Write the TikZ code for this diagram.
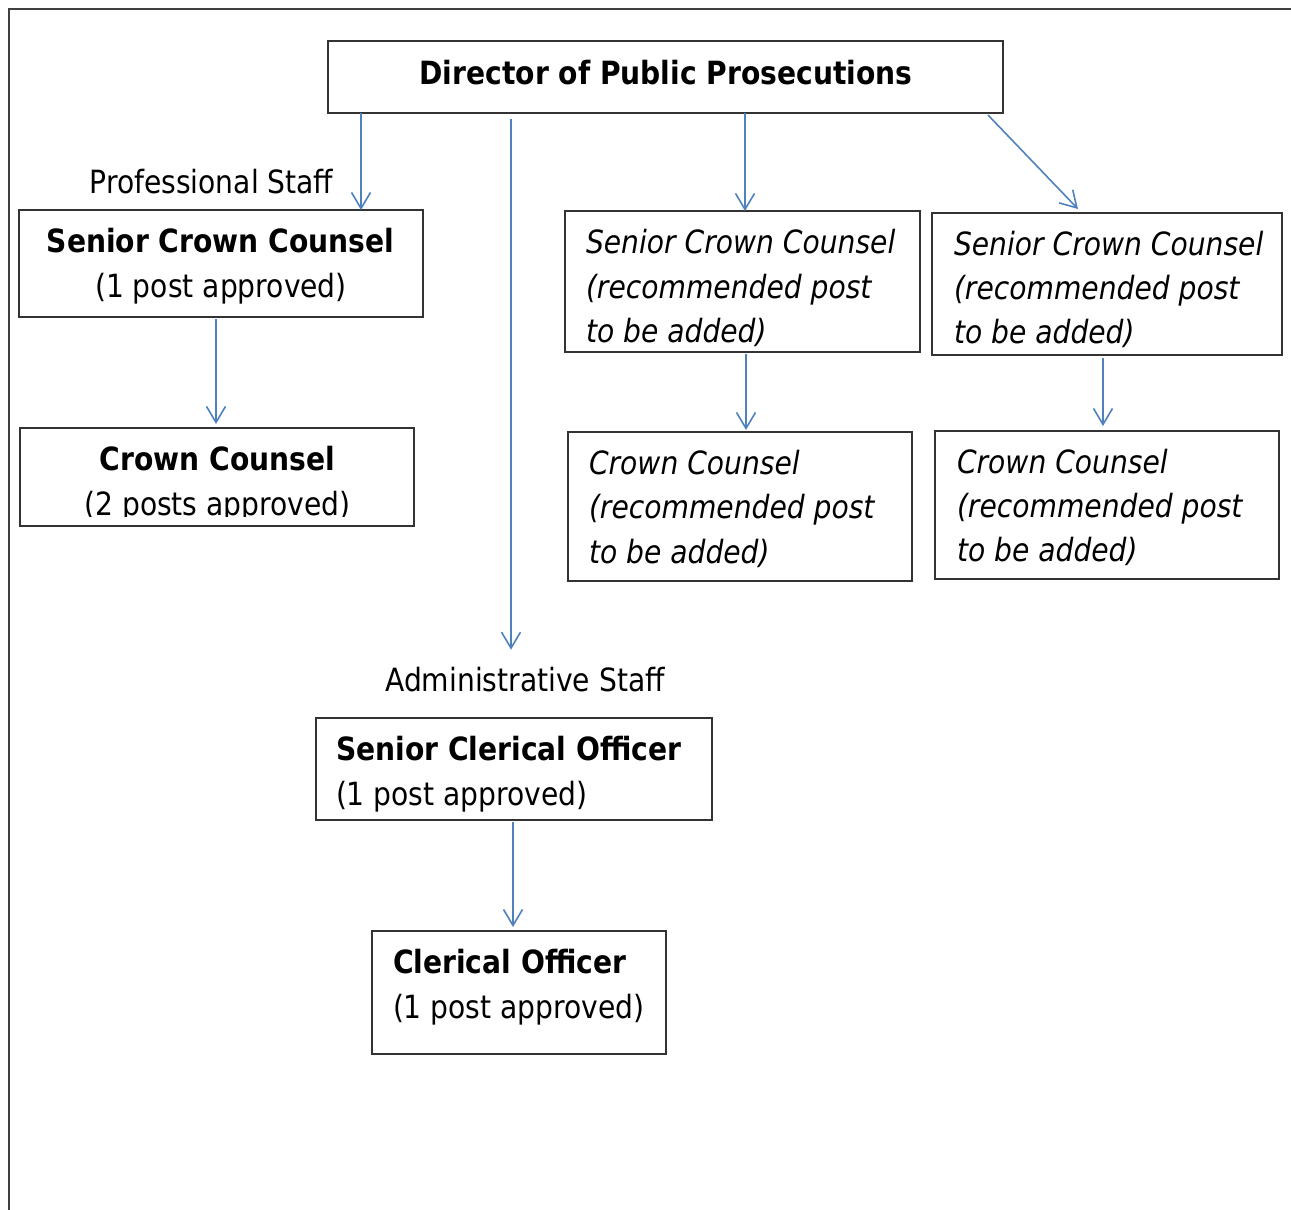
\documentclass[tikz,border=0pt]{standalone}
\usepackage{fontspec}
\setmainfont[FakeStretch=0.88]{DejaVu Sans}
\usetikzlibrary{arrows.meta}
\definecolor{linkblue}{HTML}{4F81BD}
\definecolor{boxgrey}{HTML}{333333}
\definecolor{framegrey}{HTML}{404040}
\begin{document}
\begin{tikzpicture}[x=1pt,y=-1pt,
  box/.style={draw=boxgrey,line width=1.5pt,inner sep=0pt,outer sep=0pt,rectangle},
  txt/.style={inner sep=0pt,outer sep=0pt,font=\fontsize{32pt}{45pt}\selectfont},
  tb/.style={txt,font=\fontsize{32pt}{45pt}\selectfont\bfseries},
  ti/.style={txt,font=\fontsize{32pt}{45pt}\selectfont\itshape,anchor=base west},
  arr/.style={draw=linkblue,line width=1.6pt,-{Straight Barb[length=16pt,width=19pt]}},
  frameline/.style={draw=framegrey,line width=2pt}]
\useasboundingbox (0,0) rectangle (1291,1210);
\draw[frameline] (9,1210) -- (9,9) -- (1291,9);

% boxes
\node[box,minimum width=675pt,minimum height=72pt] (dpp) at (665.5,77) {};
\node[box,minimum width=404pt,minimum height=107pt] (scc1) at (221,263.5) {};
\node[box,minimum width=394pt,minimum height=98pt] (cc1) at (217,477) {};
\node[box,minimum width=355pt,minimum height=141pt] (scc2) at (742.5,281.5) {};
\node[box,minimum width=344pt,minimum height=149pt] (cc2) at (740,506.5) {};
\node[box,minimum width=350pt,minimum height=142pt] (scc3) at (1107,284) {};
\node[box,minimum width=344pt,minimum height=148pt] (cc3) at (1107,505) {};
\node[box,minimum width=396pt,minimum height=102pt] (sco) at (514,769) {};
\node[box,minimum width=294pt,minimum height=123pt] (co) at (519,992.5) {};

% texts
\node[tb,anchor=base] (tdpp) at (666,84) {Director of Public Prosecutions};
\node[txt,anchor=base] (tprof) at (211.5,193) {Professional Staff};
\node[tb,anchor=base] (tscc1a) at (220.5,252) {Senior Crown Counsel};
\node[txt,anchor=base] (tscc1b) at (221,297) {(1 post approved)};
\node[tb,anchor=base] (tcc1a) at (217.5,470) {Crown Counsel};
\begin{scope}
\clip (20,428) rectangle (414,516);
\node[txt,anchor=base] (tcc1b) at (217.5,515) {(2 posts approved)};
\end{scope}
\node[ti] (tscc2a) at (586,253) {Senior Crown Counsel};
\node[ti] (tscc2b) at (586,298) {(recommended post};
\node[ti] (tscc2c) at (586,342) {to be added)};
\node[ti] (tcc2a) at (589,474) {Crown Counsel};
\node[ti] (tcc2b) at (589,518) {(recommended post};
\node[ti] (tcc2c) at (589,563) {to be added)};
\node[ti] (tscc3a) at (954,255) {Senior Crown Counsel};
\node[ti] (tscc3b) at (954,299) {(recommended post};
\node[ti] (tscc3c) at (954,343) {to be added)};
\node[ti] (tcc3a) at (957,473) {Crown Counsel};
\node[ti] (tcc3b) at (957,517) {(recommended post};
\node[ti] (tcc3c) at (957,561) {to be added)};
\node[txt,anchor=base] (tadm) at (525,691) {Administrative Staff};
\node[tb,anchor=base west] (tscoa) at (336,760) {Senior Clerical Officer};
\node[txt,anchor=base west] (tscob) at (336,805) {(1 post approved)};
\node[tb,anchor=base west] (tcoa) at (393,973) {Clerical Officer};
\node[txt,anchor=base west] (tcob) at (393,1018) {(1 post approved)};
\coordinate (admtop) at ([yshift=17pt]tadm.north);

% connectors
\draw[arr] ([xshift=33pt]dpp.south west) -- ([xshift=342pt]scc1.north west);
\draw[arr] ([xshift=183pt,yshift=-6pt]dpp.south west) coordinate (a2s) -- (a2s |- admtop);
\draw[arr] ([xshift=417pt]dpp.south west) -- ([xshift=180pt]scc2.north west);
\draw[arr] ([xshift=-15pt,yshift=-2pt]dpp.south east) -- ([xshift=146pt,yshift=4pt]scc3.north west);
\draw[arr] ([xshift=197pt,yshift=-2pt]scc1.south west) -- ([xshift=196pt,yshift=4pt]cc1.north west);
\draw[arr] ([xshift=3.5pt,yshift=-2pt]scc2.south) -- ([xshift=6pt,yshift=2pt]cc2.north);
\draw[arr] ([xshift=-4pt,yshift=-3pt]scc3.south) -- ([xshift=-4pt,yshift=5pt]cc3.north);
\draw[arr] ([xshift=-1pt,yshift=-2pt]sco.south) -- ([xshift=-6pt,yshift=4pt]co.north);
\end{tikzpicture}
\end{document}
